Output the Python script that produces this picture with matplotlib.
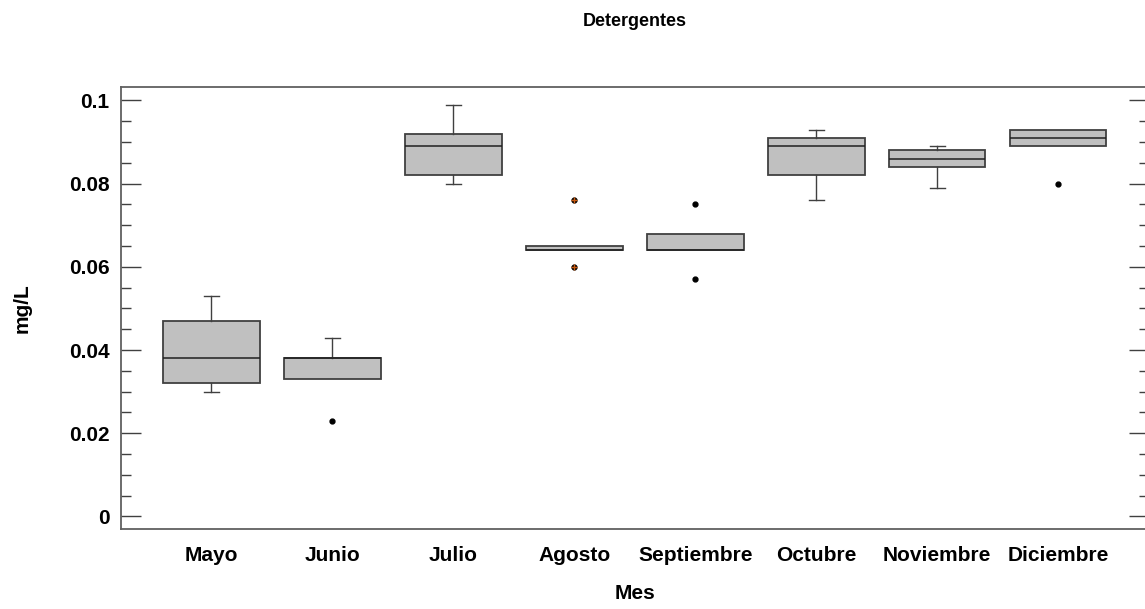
import matplotlib
matplotlib.use('Agg')
import matplotlib.pyplot as plt
from matplotlib.ticker import MultipleLocator, FixedLocator
import numpy as np

plt.rcParams['font.family'] = ['Liberation Sans', 'DejaVu Sans']

meses = ['Mayo', 'Junio', 'Julio', 'Agosto', 'Septiembre', 'Octubre', 'Noviembre', 'Diciembre']
q1 = [0.032, 0.033, 0.082, 0.064, 0.064, 0.082, 0.084, 0.089]
mediana = [0.038, 0.038, 0.089, 0.064, 0.064, 0.089, 0.086, 0.091]
q3 = [0.047, 0.038, 0.092, 0.065, 0.068, 0.091, 0.088, 0.093]
bigote_inf = [0.030, 0.033, 0.080, 0.064, 0.064, 0.076, 0.079, 0.089]
bigote_sup = [0.053, 0.043, 0.099, 0.065, 0.068, 0.093, 0.089, 0.093]
atipicos = [[], [0.023], [], [], [0.075, 0.057], [], [], [0.080]]
atipicos_lejanos = [[], [], [], [0.076, 0.060], [], [], [], []]

stats = []
for i in range(len(meses)):
    stats.append({'label': meses[i], 'q1': q1[i], 'med': mediana[i], 'q3': q3[i],
                  'whislo': bigote_inf[i], 'whishi': bigote_sup[i],
                  'fliers': atipicos[i] + atipicos_lejanos[i]})

fig = plt.figure(figsize=(11.45, 6.09), dpi=100)
ax = fig.add_axes([0.1054, 0.1314, 0.8979, 0.7262])

gris = '#404040'
res = ax.bxp(stats, positions=range(1, 9), widths=0.8, capwidths=0.125,
             patch_artist=True,
             boxprops=dict(facecolor='#c0c0c0', edgecolor=gris, linewidth=1.3),
             medianprops=dict(color='#202020', linewidth=1.1),
             whiskerprops=dict(color=gris, linewidth=1.0),
             capprops=dict(color=gris, linewidth=1.0),
             flierprops=dict(marker='o', markersize=3.5, markerfacecolor='black',
                             markeredgecolor='black'))

# ocultar bigotes y topes cuando coinciden con la caja
for i in range(len(meses)):
    for k, (b, caja) in enumerate([(bigote_inf[i], q1[i]), (bigote_sup[i], q3[i])]):
        if b == caja:
            res['caps'][2 * i + k].set_visible(False)
            res['whiskers'][2 * i + k].set_visible(False)

for i in range(len(meses)):
    if atipicos_lejanos[i]:
        ax.plot([i + 1] * len(atipicos_lejanos[i]), atipicos_lejanos[i], '+',
                color='#c85a10', markersize=4, markeredgewidth=1.0, zorder=5)

ax.set_xlim(0.25, 8.75)
ax.set_ylim(-0.003, 0.1033)
ax.yaxis.set_major_locator(FixedLocator([0, 0.02, 0.04, 0.06, 0.08, 0.1]))
ax.yaxis.set_minor_locator(MultipleLocator(0.005))
ax.set_yticklabels(['0', '0.02', '0.04', '0.06', '0.08', '0.1'])
ax.tick_params(axis='y', which='major', direction='in', length=14.5, width=1.0,
               color=gris, left=True, right=True, labelsize=15, pad=8)
ax.tick_params(axis='y', which='minor', direction='in', length=7.5, width=1.0,
               color=gris, left=True, right=True)
ax.tick_params(axis='x', length=0, labelsize=15, pad=12)
for lab in ax.get_xticklabels() + ax.get_yticklabels():
    lab.set_fontweight('bold')

for s in ax.spines.values():
    s.set_color('#606060')
    s.set_linewidth(1.3)

ax.set_xlabel('Mes', fontsize=15, fontweight='bold', labelpad=14)
ax.set_ylabel('mg/L', fontsize=15, fontweight='bold', labelpad=27)
fig.text(0.5543, 0.965, 'Detergentes', ha='center', va='center', fontsize=13, fontweight='bold')

fig.savefig('out.png', dpi=100)
